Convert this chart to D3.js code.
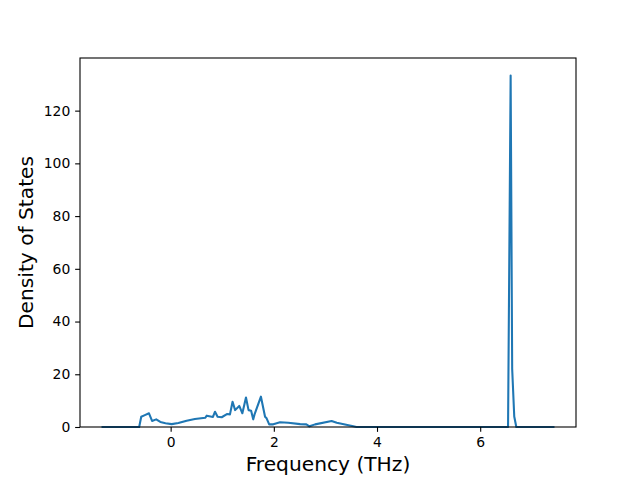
<!DOCTYPE html>
<html>
<head>
<meta charset="utf-8">
<script src="https://cdn.jsdelivr.net/npm/d3@7"></script>
<style>
  body { margin: 0; background: white; }
  svg { font-family: "DejaVu Sans", sans-serif; }
</style>
</head>
<body>
<svg id="chart" width="640" height="480"></svg>
<script>
// phonon density of states
const freq = [-1.32, -0.61, -0.57, -0.50, -0.42, -0.36, -0.28, -0.20, -0.10, 0.02,
              0.15, 0.31, 0.47, 0.67, 0.70, 0.82, 0.86, 0.91, 0.99, 1.09,
              1.15, 1.20, 1.25, 1.33, 1.39, 1.46, 1.51, 1.56, 1.60, 1.63,
              1.75, 1.83, 1.86, 1.91, 1.99, 2.12, 2.28, 2.51, 2.63, 2.69,
              2.80, 3.12, 3.22, 3.54, 3.60, 6.54, 6.59, 6.62, 6.66, 6.70, 7.42];
const dos = [0, 0, 3.9, 4.5, 5.2, 2.3, 2.9, 1.9, 1.4, 1.1,
             1.5, 2.4, 3.0, 3.5, 4.3, 3.8, 5.8, 3.9, 3.7, 4.9,
             4.8, 9.6, 6.4, 8.0, 5.2, 11.2, 6.4, 6.2, 2.9, 5.0,
             11.5, 3.9, 3.3, 1.0, 1.0, 1.8, 1.6, 1.1, 1.0, 0.25,
             1.0, 2.3, 1.6, 0.3, 0, 0, 133.3, 22, 4, 0, 0];
const xTicks = [0, 2, 4, 6];
const yTicks = [0, 20, 40, 60, 80, 100, 120];

const margin = {left: 80, right: 64, top: 58, bottom: 53};
const width = 640 - margin.left - margin.right;
const height = 480 - margin.top - margin.bottom;

const svg = d3.select("#chart");
const g = svg.append("g")
    .attr("transform", `translate(${margin.left},${margin.top})`);

// matplotlib style 5% padding on x, y starts at 0
const xMin = d3.min(freq), xMax = d3.max(freq);
const pad = (xMax - xMin) * 0.05;
const x = d3.scaleLinear()
    .domain([xMin - pad, xMax + pad])
    .range([0, width]);
const y = d3.scaleLinear()
    .domain([0, d3.max(dos) * 1.05])
    .range([height, 0]);

const pts = d3.zip(freq, dos);

g.append("path")
    .datum(pts)
    .attr("fill", "none")
    .attr("stroke", "#1f77b4")
    .attr("stroke-width", 2.08)
    .attr("stroke-linejoin", "round")
    .attr("stroke-linecap", "square")
    .attr("d", d3.line().x(d => x(d[0])).y(d => y(d[1])));

const xAxis = g.append("g")
    .attr("transform", `translate(0,${height})`)
    .call(d3.axisBottom(x).tickValues(xTicks).tickSize(4.86).tickPadding(4.9).tickFormat(d3.format("d")));
const yAxis = g.append("g")
    .call(d3.axisLeft(y).tickValues(yTicks).tickSize(4.86).tickPadding(4.9).tickFormat(d3.format("d")));

[xAxis, yAxis].forEach(a => {
  a.select(".domain").remove();
  a.selectAll(".tick line").attr("stroke", "black").attr("stroke-width", 1.1);
  a.selectAll(".tick text")
    .attr("fill", "black")
    .style("font-size", "13.9px")
    .style("font-family", "DejaVu Sans");
});

// frame
g.append("rect")
    .attr("width", width)
    .attr("height", height)
    .attr("fill", "none")
    .attr("stroke", "black")
    .attr("stroke-width", 1.1);

svg.append("text")
    .attr("x", margin.left + width / 2)
    .attr("y", 471)
    .attr("text-anchor", "middle")
    .style("font-size", "20.2px")
    .text("Frequency (THz)");

svg.append("text")
    .attr("transform", `translate(33,${margin.top + height / 2}) rotate(-90)`)
    .attr("text-anchor", "middle")
    .style("font-size", "20.2px")
    .text("Density of States");
</script>
</body>
</html>
